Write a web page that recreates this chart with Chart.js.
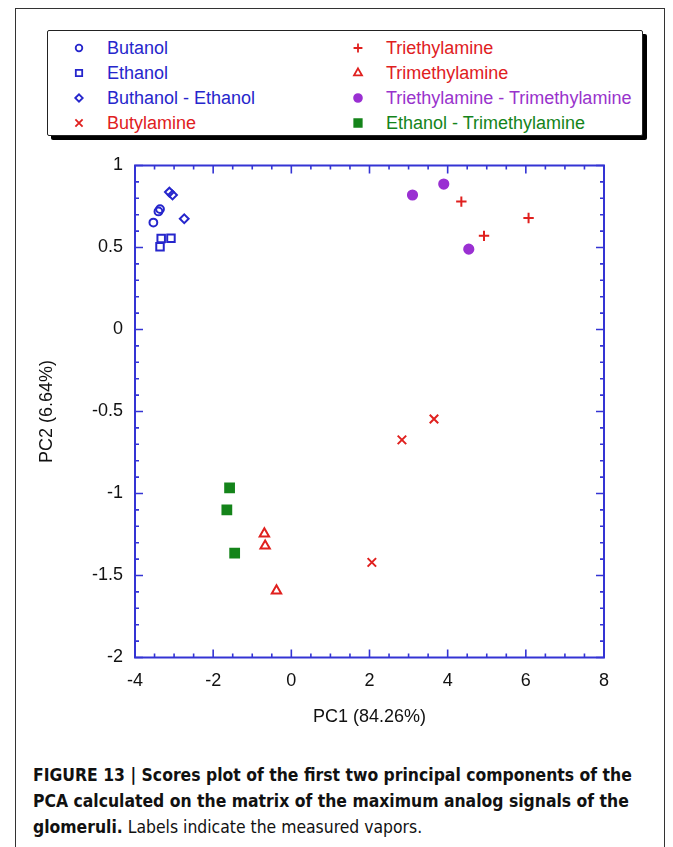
<!DOCTYPE html>
<html>
<head>
<meta charset="utf-8">
<script src="https://cdn.jsdelivr.net/npm/chart.js@4.4.0/dist/chart.umd.min.js"></script>
<style>
  body { margin: 0; background: #fff; width: 673px; height: 847px; position: relative; overflow: hidden;
         font-family: "Liberation Sans", Arial, sans-serif; }
  #frame { position: absolute; left: 15px; top: 8px; width: 648px; height: 900px; border: 1px solid #333; }
  #legend { position: absolute; left: 47px; top: 30px; width: 594px; height: 104px; border: 1px solid #222;
            box-shadow: 4px 4px 0 #000; border-radius: 2px; background: #fff; }
  .item { position: absolute; font-size: 18px; line-height: 22px; white-space: nowrap; }
  .item canvas { position: absolute; top: 1px; }
  #wrap { position: absolute; left: 0; top: 140px; width: 673px; height: 620px; }
  #caption { position: absolute; left: 33px; top: 762px; width: 620px; font-size: 17.4px; line-height: 26px; color: #111;
             font-family: "Liberation Sans Narrow", "DejaVu Sans Condensed", Arial, sans-serif; }
  #caption b { font-weight: bold; }
</style>
</head>
<body>
<div id="frame"></div>
<div id="legend"></div>
<div id="wrap"><canvas id="myChart" width="673" height="620"></canvas></div>
<div id="caption"><b>FIGURE 13 | Scores plot of the first two principal components of the<br>PCA calculated on the matrix of the maximum analog signals of the<br>glomeruli.</b> Labels indicate the measured vapors.</div>
<script>
// PCA scores [PC1, PC2]
const butanol = [[-3.53, 0.652], [-3.40, 0.72], [-3.36, 0.734]];
const ethanol = [[-3.33, 0.555], [-3.08, 0.557], [-3.36, 0.504]];
const butEth = [[-3.12, 0.838], [-3.04, 0.82], [-2.74, 0.675]];
const butylamine = [[3.65, -0.546], [2.83, -0.673], [2.06, -1.42]];
const triethylamine = [[4.35, 0.78], [6.07, 0.68], [4.93, 0.571]];
const trimethylamine = [[-0.69, -1.245], [-0.67, -1.319], [-0.38, -1.593]];
const triTri = [[3.10, 0.82], [3.90, 0.887], [4.54, 0.49]];
const ethTri = [[-1.58, -0.965], [-1.65, -1.10], [-1.45, -1.363]];

const names = ["Butanol", "Ethanol", "Buthanol - Ethanol", "Butylamine",
  "Triethylamine", "Trimethylamine", "Triethylamine - Trimethylamine", "Ethanol - Trimethylamine"];
const series = [butanol, ethanol, butEth, butylamine, triethylamine, trimethylamine, triTri, ethTri];
const colors = ["#2626cc", "#2626cc", "#2626cc", "#e0201e", "#e0201e", "#e0201e", "#9a30d2", "#14841a"];
const styles = ["circle", "rect", "rectRot", "crossRot", "cross", "triangle", "circle", "rect"];
const filled = [false, false, false, false, false, false, true, true];
const radii = [3.9, 5.3, 4.4, 6, 5.2, 5.4, 4.6, 6.2];

const xTicks = [-4, -2, 0, 2, 4, 6, 8];
const yTicks = [-2, -1.5, -1, -0.5, 0, 0.5, 1];

const axisColor = "#3434d4";
const family = '"Liberation Sans", Arial, sans-serif';

// legend (two columns, column-major)
const legend = document.getElementById("legend");
names.forEach(function (name, i) {
  const col = Math.floor(i / 4), row = i % 4;
  const div = document.createElement("div");
  div.className = "item";
  div.style.left = (col ? 338 : 59) + "px";
  div.style.top = (6 + row * 25) + "px";
  div.style.color = i === 6 ? "#9933cc" : colors[i];
  const cv = document.createElement("canvas");
  cv.width = 20; cv.height = 20;
  cv.style.left = "-38px";
  const c = cv.getContext("2d");
  c.strokeStyle = colors[i];
  c.fillStyle = filled[i] ? colors[i] : "rgba(0,0,0,0)";
  c.lineWidth = 1.8;
  Chart.helpers.drawPoint(c, { pointStyle: styles[i], radius: radii[i] * 0.85, borderWidth: 1.8, rotation: 0 }, 10, 10);
  div.appendChild(cv);
  div.appendChild(document.createTextNode(name));
  legend.appendChild(div);
});

// box round the plot with inward major and minor ticks on all four sides
const frameTicks = {
  id: "frameTicks",
  beforeDatasetsDraw(chart) {
    const { ctx, chartArea: a, scales: { x, y } } = chart;
    ctx.save();
    ctx.strokeStyle = axisColor;
    ctx.lineWidth = 2;
    ctx.strokeRect(a.left, a.top, a.right - a.left, a.bottom - a.top);
    ctx.lineWidth = 1.6;
    ctx.beginPath();
    for (let i = 0; i <= 24; i++) {
      const v = -4 + i * 0.5;
      const px = x.getPixelForValue(v);
      const len = i % 4 === 0 ? 8 : 4;
      ctx.moveTo(px, a.bottom); ctx.lineTo(px, a.bottom - len);
      ctx.moveTo(px, a.top); ctx.lineTo(px, a.top + len);
    }
    for (let i = 0; i <= 30; i++) {
      const v = -2 + i * 0.1;
      const py = y.getPixelForValue(v);
      const len = i % 5 === 0 ? 8 : 4;
      ctx.moveTo(a.left, py); ctx.lineTo(a.left + len, py);
      ctx.moveTo(a.right, py); ctx.lineTo(a.right - len, py);
    }
    ctx.stroke();
    ctx.restore();
  }
};

const datasets = series.map(function (pts, i) {
  return {
    label: names[i],
    data: pts.map(p => ({ x: p[0], y: p[1] })),
    pointStyle: styles[i],
    pointRadius: radii[i],
    pointBorderWidth: 2,
    borderColor: colors[i],
    backgroundColor: filled[i] ? colors[i] : "rgba(0,0,0,0)",
    showLine: false,
  };
});

new Chart(document.getElementById("myChart"), {
  type: "scatter",
  data: { datasets: datasets },
  plugins: [frameTicks],
  options: {
    responsive: false,
    animation: false,
    layout: { padding: { left: 0, right: 69, top: 25.5, bottom: 0 } },
    plugins: { legend: { display: false }, tooltip: { enabled: false } },
    scales: {
      x: {
        type: "linear", min: -4, max: 8,
        afterBuildTicks: s => { s.ticks = xTicks.map(v => ({ value: v })); },
        ticks: { color: "#111", font: { size: 18, family: family }, padding: 13, maxRotation: 0, callback: v => String(v) },
        grid: { display: false, drawTicks: false },
        border: { display: false },
        title: { display: true, text: "PC1 (84.26%)", color: "#111", font: { size: 18, family: family }, padding: { bottom: 32 } },
        afterFit: s => { s.height = 102.5; },
      },
      y: {
        type: "linear", min: -2, max: 1,
        afterBuildTicks: s => { s.ticks = yTicks.map(v => ({ value: v })); },
        ticks: { color: "#111", font: { size: 18, family: family }, padding: 12, callback: v => String(v) },
        grid: { display: false, drawTicks: false },
        border: { display: false },
        title: { display: true, text: "PC2 (6.64%)", color: "#111", font: { size: 18, family: family }, padding: { top: 36 } },
        afterFit: s => { s.width = 135; },
      },
    },
  },
});
</script>
</body>
</html>
